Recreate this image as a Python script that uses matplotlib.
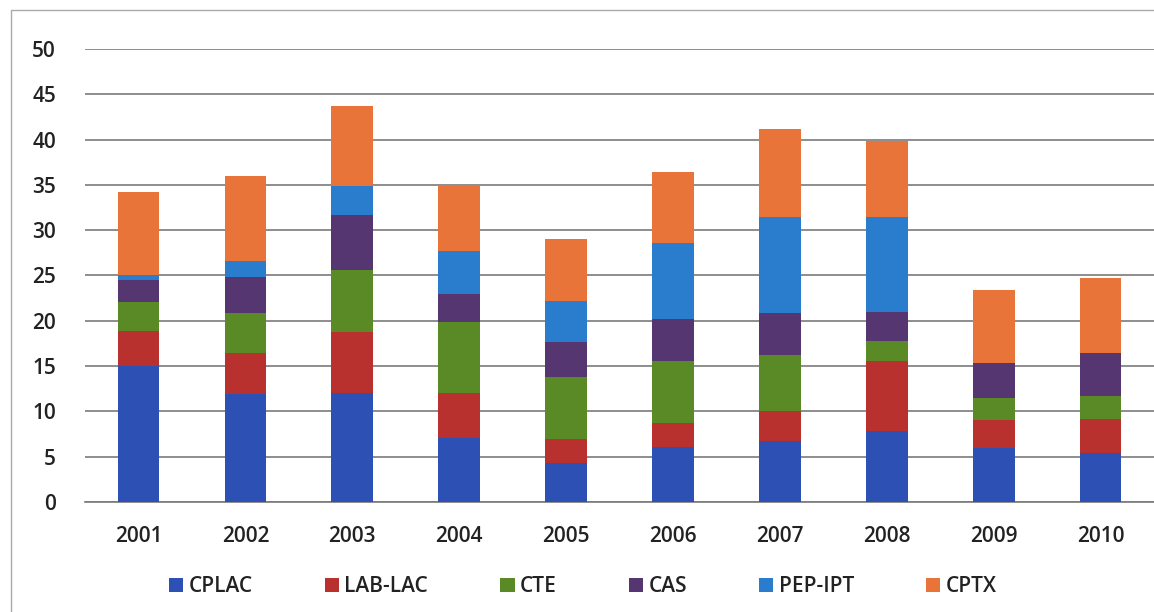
import numpy as np
import matplotlib.pyplot as plt
from matplotlib.patches import Rectangle

# Data
years = ["2001", "2002", "2003", "2004", "2005", "2006", "2007", "2008", "2009", "2010"]
cplac = [15.0, 11.9, 12.0, 7.1, 4.3, 6.1, 6.7, 7.8, 6.0, 5.4]
lablac = [3.9, 4.5, 6.8, 4.9, 2.7, 2.6, 3.3, 7.8, 3.1, 3.8]
cte = [3.2, 4.5, 6.8, 7.9, 6.8, 6.9, 6.2, 2.2, 2.4, 2.5]
cas = [2.4, 3.9, 6.1, 3.1, 3.9, 4.6, 4.7, 3.2, 3.8, 4.7]
pepipt = [0.6, 1.8, 3.2, 4.7, 4.5, 8.4, 10.6, 10.4, 0.0, 0.0]
cptx = [9.1, 9.4, 8.8, 7.3, 6.8, 7.8, 9.7, 8.4, 8.1, 8.3]

series = [cplac, lablac, cte, cas, pepipt, cptx]
names = ["CPLAC", "LAB-LAC", "CTE", "CAS", "PEP-IPT", "CPTX"]
colors = ["#2c50b4", "#b8312e", "#5a8a26", "#553670", "#2a7ccc", "#e8743a"]

plt.rcParams['font.family'] = ['Open Sans', 'DejaVu Sans']
plt.rcParams['font.weight'] = 'semibold'

fig = plt.figure(figsize=(11.54, 6.12), dpi=100)
ax = fig.add_axes([0.0737, 0.1797, 0.9263, 0.7403])

x = np.arange(len(years))
bottom = np.zeros(len(years))
for vals, name, col in zip(series, names, colors):
    ax.bar(x, vals, width=0.39, bottom=bottom, color=col, label=name, zorder=3)
    bottom += np.array(vals)

ax.set_xlim(-0.5, len(years) - 0.5)
ax.set_ylim(0, 50)
ax.set_yticks(range(0, 51, 5))
ax.set_xticks(x)
ax.set_xticklabels(years)
ax.yaxis.grid(True, color="#7a7a7a", linewidth=1.2, zorder=0)
ax.tick_params(axis="both", length=0, labelsize=15, colors="#222222")
ax.tick_params(axis="x", pad=17)
ax.tick_params(axis="y", pad=21)
for s in ["top", "right", "left"]:
    ax.spines[s].set_visible(False)
ax.spines["bottom"].set_color("#7a7a7a")
ax.spines["bottom"].set_linewidth(1.2)

leg = fig.legend(loc="center", bbox_to_anchor=(0.505, 0.041), ncol=6, frameon=False,
                 fontsize=15, handlelength=0.7, handleheight=0.7, handletextpad=0.25,
                 columnspacing=3.45)
for t in leg.get_texts():
    t.set_color("#222222")

# outer chart frame
fig.patches.append(Rectangle((0.0095, -0.01), 1.0, 0.994, transform=fig.transFigure,
                             fill=False, edgecolor="#aaaaaa", linewidth=1.0))

plt.savefig("out.png", dpi=100)
